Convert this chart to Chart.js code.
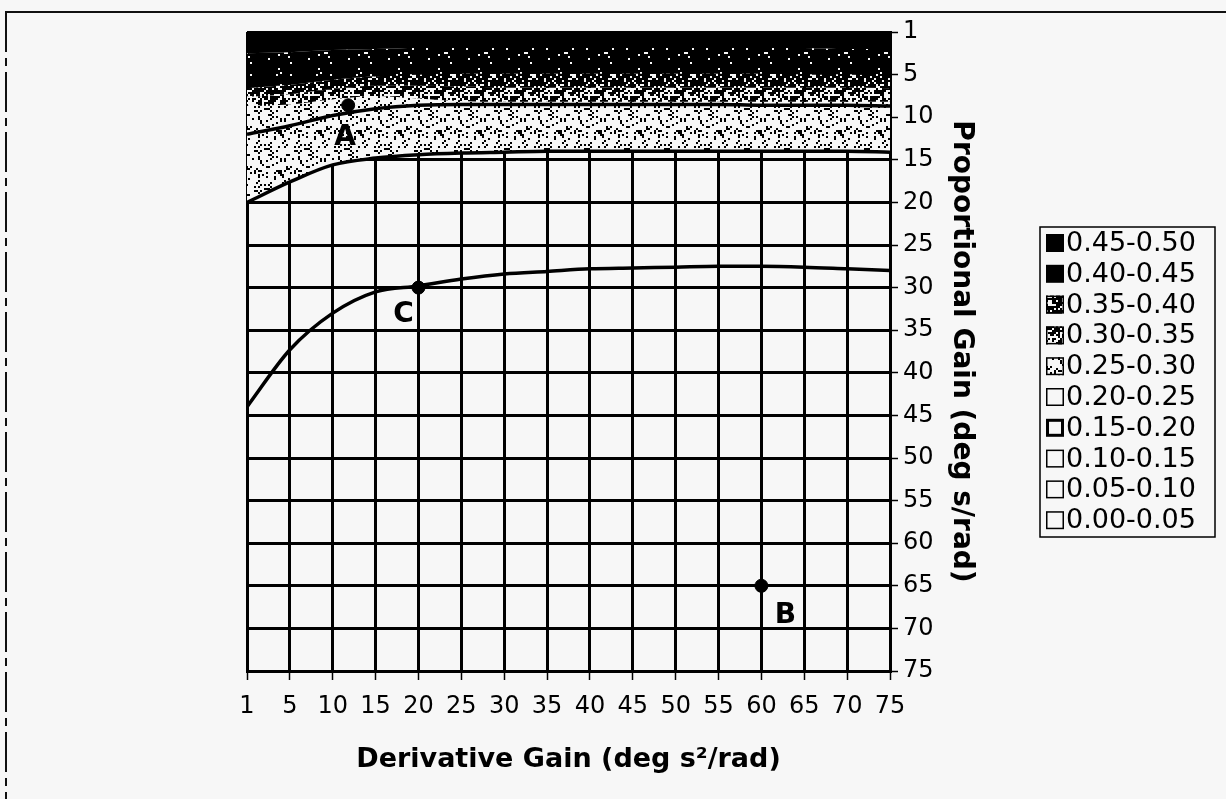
<!DOCTYPE html>
<html>
<head>
<meta charset="utf-8">
<script src="https://cdn.jsdelivr.net/npm/chart.js@4/dist/chart.umd.min.js"></script>
<style>
  html, body { margin: 0; padding: 0; background: #f7f7f7; }
  canvas { display: block; }
</style>
</head>
<body>
<canvas id="chart" width="1226" height="799"></canvas>
<script>
// ---------------- data ----------------
const derivativeGain   = [1, 5, 10, 15, 20, 25, 30, 35, 40, 45, 50, 55, 60, 65, 70, 75];
const proportionalGain = [1, 5, 10, 15, 20, 25, 30, 35, 40, 45, 50, 55, 60, 65, 70, 75];
const bandLabels = ['0.45-0.50','0.40-0.45','0.35-0.40','0.30-0.35','0.25-0.30',
                    '0.20-0.25','0.15-0.20','0.10-0.15','0.05-0.10','0.00-0.05'];

// band edges: proportional gain at each derivative gain
const edge045 = [3.0, 2.9, 2.7, 2.6, 2.5, 2.5, 2.5, 2.5, 2.5, 2.5, 2.5, 2.5, 2.5, 2.5, 2.6, 2.6];
const edge040 = [6.6, 6.2, 5.6, 5.2, 5.0, 4.9, 4.9, 4.9, 4.9, 4.9, 4.9, 4.9, 4.9, 5.0, 5.0, 5.1];
const edge035 = [7.6, 7.3, 6.7, 6.3, 6.3, 6.4, 6.5, 6.5, 6.5, 6.5, 6.5, 6.5, 6.5, 6.5, 6.5, 6.6];
const edge030 = [8.6, 8.5, 7.9, 7.5, 7.8, 8.1, 8.2, 8.2, 8.2, 8.2, 8.2, 8.2, 8.2, 8.2, 8.2, 8.2];
// contour lines
const contour1 = [12.0, 11.0, 9.8, 9.0, 8.6, 8.5, 8.5, 8.5, 8.5, 8.5, 8.5, 8.5, 8.6, 8.6, 8.6, 8.7];
const contour2 = [20.0, 17.6, 15.6, 14.8, 14.4, 14.2, 14.1, 14.0, 14.0, 14.0, 14.0, 14.0, 14.0, 14.0, 14.0, 14.1];
const contour3 = [44.0, 37.3, 33.0, 30.5, 29.8, 29.0, 28.4, 28.1, 27.8, 27.7, 27.6, 27.5, 27.5, 27.6, 27.8, 28.0];

// marked operating points
const markerNames = ['A', 'B', 'C'];
const markerDeriv = [11.8, 60, 20];
const markerProp  = [8.6, 65, 30];

// ---------------- helpers ----------------
const BG = '#f7f7f7';
// axis categories are equally spaced: 1,5,10,...,75 -> 0,1,2,...,15
function toIdx(v) { return v <= 5 ? (v - 1) / 4 : v / 5; }
function curve(arr) { return derivativeGain.map((d, i) => ({ x: toIdx(d), y: toIdx(arr[i]) })); }

function stipple(ink) {
  const t = document.createElement('canvas');
  t.width = t.height = 40;
  const g = t.getContext('2d');
  g.fillStyle = BG; g.fillRect(0, 0, 40, 40);
  g.fillStyle = '#000';
  for (let cy = 0; cy < 20; cy++) for (let cx = 0; cx < 20; cx++) {
    const h = Math.abs(Math.sin(cx * 12.9898 + cy * 78.233) * 43758.5453) % 1;
    if (h < ink) g.fillRect(cx * 2, cy * 2, 2, 2);
  }
  return g.createPattern(t, 'repeat');
}
const fills = {
  b45: '#000',
  b40: stipple(0.96),
  b35: stipple(0.7),
  b30: stipple(0.5),
  b25: stipple(0.15)
};
const legendFills = [fills.b45, '#000', fills.b35, fills.b30, fills.b25, BG, BG, BG, BG, BG];
const legendBorder = [0, 0, 1.5, 1.5, 1.5, 1.5, 3, 1.5, 1.5, 1.5];

const band = (data, fill, bg) => ({
  data: curve(data), fill: fill, backgroundColor: bg, borderWidth: 0,
  pointRadius: 0, cubicInterpolationMode: 'monotone'
});
const line = (data) => ({
  data: curve(data), fill: false, borderColor: '#000', borderWidth: 3.5,
  pointRadius: 0, cubicInterpolationMode: 'monotone'
});

// ---------------- plugins ----------------
const framePlugin = {
  id: 'frame',
  beforeDraw(chart) {
    const ctx = chart.ctx;
    ctx.save();
    ctx.fillStyle = BG; ctx.fillRect(0, 0, chart.width, chart.height);
    ctx.strokeStyle = '#111'; ctx.lineWidth = 2;
    ctx.beginPath(); ctx.moveTo(5, 12); ctx.lineTo(chart.width, 12); ctx.stroke();
    ctx.setLineDash([40, 6, 8, 6]);
    ctx.beginPath(); ctx.moveTo(6, 12); ctx.lineTo(6, chart.height); ctx.stroke();
    ctx.restore();
  }
};

const markerLabelPlugin = {
  id: 'markerLabels',
  afterDatasetsDraw(chart) {
    const ctx = chart.ctx;
    const meta = chart.getDatasetMeta(0);
    const offs = [[-3, 32], [24, 30], [-15, 27]];
    ctx.save();
    ctx.font = 'bold 28px "DejaVu Sans"';
    ctx.textAlign = 'center'; ctx.textBaseline = 'middle';
    meta.data.forEach((pt, i) => {
      ctx.fillStyle = '#000';
      ctx.fillText(markerNames[i], pt.x + offs[i][0], pt.y + offs[i][1]);
    });
    ctx.restore();
  }
};

const legendPlugin = {
  id: 'bandLegend',
  afterDraw(chart) {
    const ctx = chart.ctx;
    const box = { x: 1040, y: 227, w: 175, h: 310, first: 243, step: 30.8 };
    ctx.save();
    ctx.fillStyle = BG; ctx.fillRect(box.x, box.y, box.w, box.h);
    ctx.strokeStyle = '#000'; ctx.lineWidth = 1.5;
    ctx.strokeRect(box.x, box.y, box.w, box.h);
    ctx.font = '27px "DejaVu Sans"';
    ctx.textBaseline = 'middle'; ctx.textAlign = 'left';
    bandLabels.forEach((lab, i) => {
      const cy = box.first + i * box.step;
      const sx = box.x + 6, sy = cy - 9, s = 18;
      ctx.fillStyle = legendFills[i]; ctx.fillRect(sx, sy, s, s);
      if (legendBorder[i] > 0) {
        ctx.lineWidth = legendBorder[i]; ctx.strokeStyle = '#000';
        ctx.strokeRect(sx + legendBorder[i] / 2, sy + legendBorder[i] / 2, s - legendBorder[i], s - legendBorder[i]);
      }
      ctx.fillStyle = '#000';
      ctx.fillText(lab, box.x + 26, cy + 1);
    });
    ctx.restore();
  }
};

// ---------------- chart ----------------
const tickFont = { family: '"DejaVu Sans"', size: 24 };
const titleFont = { family: '"DejaVu Sans"', size: 27, weight: 'bold' };

new Chart(document.getElementById('chart'), {
  type: 'line',
  data: {
    datasets: [
      { data: markerDeriv.map((d, i) => ({ x: toIdx(d), y: toIdx(markerProp[i]) })),
        showLine: false, pointRadius: 6.5, pointBackgroundColor: '#000', pointBorderColor: '#000' },
      line(contour1),
      line(contour2),
      line(contour3),
      band(edge045, { value: 0 }, fills.b45),
      band(edge040, 4, fills.b40),
      band(edge035, 5, fills.b35),
      band(edge030, 6, fills.b30),
      band(contour2, 7, fills.b25)
    ]
  },
  options: {
    responsive: false,
    animation: false,
    devicePixelRatio: 1,
    layout: { padding: { left: 247, top: 32, right: 246, bottom: 0 } },
    plugins: { legend: { display: false }, tooltip: { enabled: false } },
    scales: {
      x: {
        type: 'linear', min: 0, max: 15, position: 'bottom', z: 1,
        afterFit: (s) => { s.height = 128; },
        ticks: { stepSize: 1, autoSkip: false, maxRotation: 0, color: '#000', font: tickFont, padding: 12,
                 callback: (v) => derivativeGain[v] },
        grid: { color: '#000', lineWidth: 3, tickLength: 9, tickWidth: 1.5, tickColor: '#000' },
        border: { color: '#000', width: 3 },
        title: { display: true, text: 'Derivative Gain (deg s²/rad)', color: '#000', font: titleFont,
                 padding: { top: 0, bottom: 23 } }
      },
      y: {
        type: 'linear', min: 0, max: 15, reverse: true, position: 'right', z: 1,
        afterFit: (s) => { s.width = 90; },
        ticks: { stepSize: 1, autoSkip: false, color: '#000', font: tickFont, padding: 5,
                 callback: (v) => proportionalGain[v] },
        grid: { color: '#000', lineWidth: 3, tickLength: 8, tickWidth: 1.5, tickColor: '#000' },
        border: { color: '#000', width: 3 },
        title: { display: true, text: 'Proportional Gain (deg s/rad)', color: '#000',
                 font: { family: '"DejaVu Sans"', size: 28, weight: 'bold' },
                 padding: { top: 2, bottom: 0 } }
      }
    }
  },
  plugins: [framePlugin, markerLabelPlugin, legendPlugin]
});
</script>
</body>
</html>
